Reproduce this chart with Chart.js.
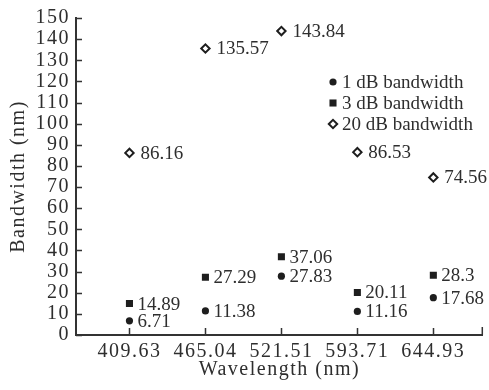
<!DOCTYPE html>
<html>
<head>
<meta charset="utf-8">
<script src="https://cdn.jsdelivr.net/npm/chart.js@4/dist/chart.umd.min.js"></script>
<style>
  html, body { margin: 0; padding: 0; background: #fff; }
  #wrap { width: 489px; height: 390px; }
</style>
</head>
<body>
<div id="wrap"><canvas id="c" width="489" height="390"></canvas></div>
<script>
// Wavelength categories (nm)
const wavelengths = ['409.63', '465.04', '521.51', '593.71', '644.93'];
// Bandwidths (nm) at each wavelength
const bw1dB  = [6.71, 11.38, 27.83, 11.16, 17.68];
const bw3dB  = [14.89, 27.29, 37.06, 20.11, 28.3];
const bw20dB = [86.16, 135.57, 143.84, 86.53, 74.56];
const seriesNames = ['1 dB bandwidth', '3 dB bandwidth', '20 dB bandwidth'];

const INK = '#1e1e1e';
const TEXT = '#2e2e2e';
const SERIF = "'Liberation Serif', 'Times New Roman', serif";

const toPoints = arr => arr.map((v, i) => ({ x: i, y: v }));

const datasets = [
  { label: seriesNames[0], data: toPoints(bw1dB), pointStyle: 'circle',
    pointRadius: 3.6, backgroundColor: INK, borderColor: INK, borderWidth: 0, labelGap: 8 },
  { label: seriesNames[1], data: toPoints(bw3dB), pointStyle: 'rect',
    pointRadius: 5, backgroundColor: INK, borderColor: INK, borderWidth: 0, labelGap: 8 },
  { label: seriesNames[2], data: toPoints(bw20dB), pointStyle: 'rectRot',
    pointRadius: 4.2, backgroundColor: '#fff', borderColor: INK, borderWidth: 2, labelGap: 11 }
];
datasets.forEach(d => { d.showLine = false; d.pointHoverRadius = d.pointRadius; });

// Letter spacing for axis text (scales are drawn before the datasets)
const spacingPlugin = {
  id: 'spacing',
  beforeDraw(chart) { chart.ctx.letterSpacing = '1.5px'; },
  beforeDatasetsDraw(chart) { chart.ctx.letterSpacing = '0px'; }
};

// Inward tick marks on both axes
const tickPlugin = {
  id: 'inTicks',
  afterDraw(chart) {
    const { ctx, scales: { x, y } } = chart;
    ctx.save();
    ctx.strokeStyle = '#333';
    ctx.lineWidth = 1.5;
    ctx.beginPath();
    y.ticks.forEach(t => {
      const py = Math.round(y.getPixelForValue(t.value)) + 0.5;
      ctx.moveTo(x.left, py); ctx.lineTo(x.left + 6, py);
    });
    x.ticks.forEach(t => {
      const px = Math.round(x.getPixelForValue(t.value)) + 0.5;
      ctx.moveTo(px, y.bottom); ctx.lineTo(px, y.bottom - 7);
    });
    ctx.moveTo(x.right - 0.5, y.bottom); ctx.lineTo(x.right - 0.5, y.bottom - 8);
    ctx.stroke();
    ctx.restore();
  }
};

// Value labels beside each point and the legend inside the plot
const labelPlugin = {
  id: 'valueLabels',
  afterDatasetsDraw(chart) {
    const ctx = chart.ctx;
    ctx.save();
    ctx.letterSpacing = '0px';
    ctx.font = '19px ' + SERIF;
    ctx.fillStyle = TEXT;
    ctx.textAlign = 'left';
    ctx.textBaseline = 'middle';
    chart.data.datasets.forEach((ds, di) => {
      const meta = chart.getDatasetMeta(di);
      meta.data.forEach((el, i) => {
        ctx.fillText(String(ds.data[i].y), el.x + ds.labelGap, el.y + 1);
      });
    });

    // legend
    const lx = 333, ly0 = 82, step = 21;
    chart.data.datasets.forEach((ds, di) => {
      const cy = ly0 + di * step;
      ctx.save();
      ctx.fillStyle = ds.backgroundColor;
      ctx.strokeStyle = ds.borderColor;
      ctx.lineWidth = ds.borderWidth;
      Chart.helpers.drawPoint(ctx, {
        pointStyle: ds.pointStyle, radius: ds.pointRadius,
        borderWidth: ds.borderWidth, rotation: 0
      }, lx, cy);
      ctx.restore();
      ctx.fillStyle = TEXT;
      ctx.fillText(ds.label, lx + 9, cy + 1);
    });
    ctx.restore();
  }
};

new Chart(document.getElementById('c'), {
  type: 'scatter',
  data: { datasets },
  plugins: [spacingPlugin, tickPlugin, labelPlugin],
  options: {
    responsive: false,
    animation: false,
    layout: { padding: { top: 17, right: 2, left: 0, bottom: 0 } },
    plugins: { legend: { display: false }, tooltip: { enabled: false } },
    scales: {
      x: {
        type: 'linear',
        min: -0.7036,
        max: 4.651,
        afterBuildTicks: s => { s.ticks = wavelengths.map((_, i) => ({ value: i })); },
        afterFit: s => { s.height = 55; },
        ticks: {
          callback: v => wavelengths[v],
          font: { family: SERIF, size: 20 },
          color: TEXT,
          padding: 5,
          maxRotation: 0,
          autoSkip: false
        },
        grid: { display: false, drawTicks: false },
        border: { display: true, color: '#333', width: 2 },
        title: {
          display: true, text: 'Wavelength (nm)',
          font: { family: SERIF, size: 20 }, color: TEXT,
          padding: { top: 0, bottom: 8 }
        }
      },
      y: {
        min: 0,
        max: 150,
        afterFit: s => { s.width = 76; },
        ticks: {
          stepSize: 10,
          autoSkip: false,
          font: { family: SERIF, size: 20 },
          color: TEXT,
          padding: 6
        },
        grid: { display: false, drawTicks: false },
        border: { display: true, color: '#333', width: 2 },
        title: {
          display: true, text: 'Bandwidth (nm)',
          font: { family: SERIF, size: 20 }, color: TEXT,
          padding: { top: 7, bottom: 0 }
        }
      }
    }
  }
});
</script>
</body>
</html>
